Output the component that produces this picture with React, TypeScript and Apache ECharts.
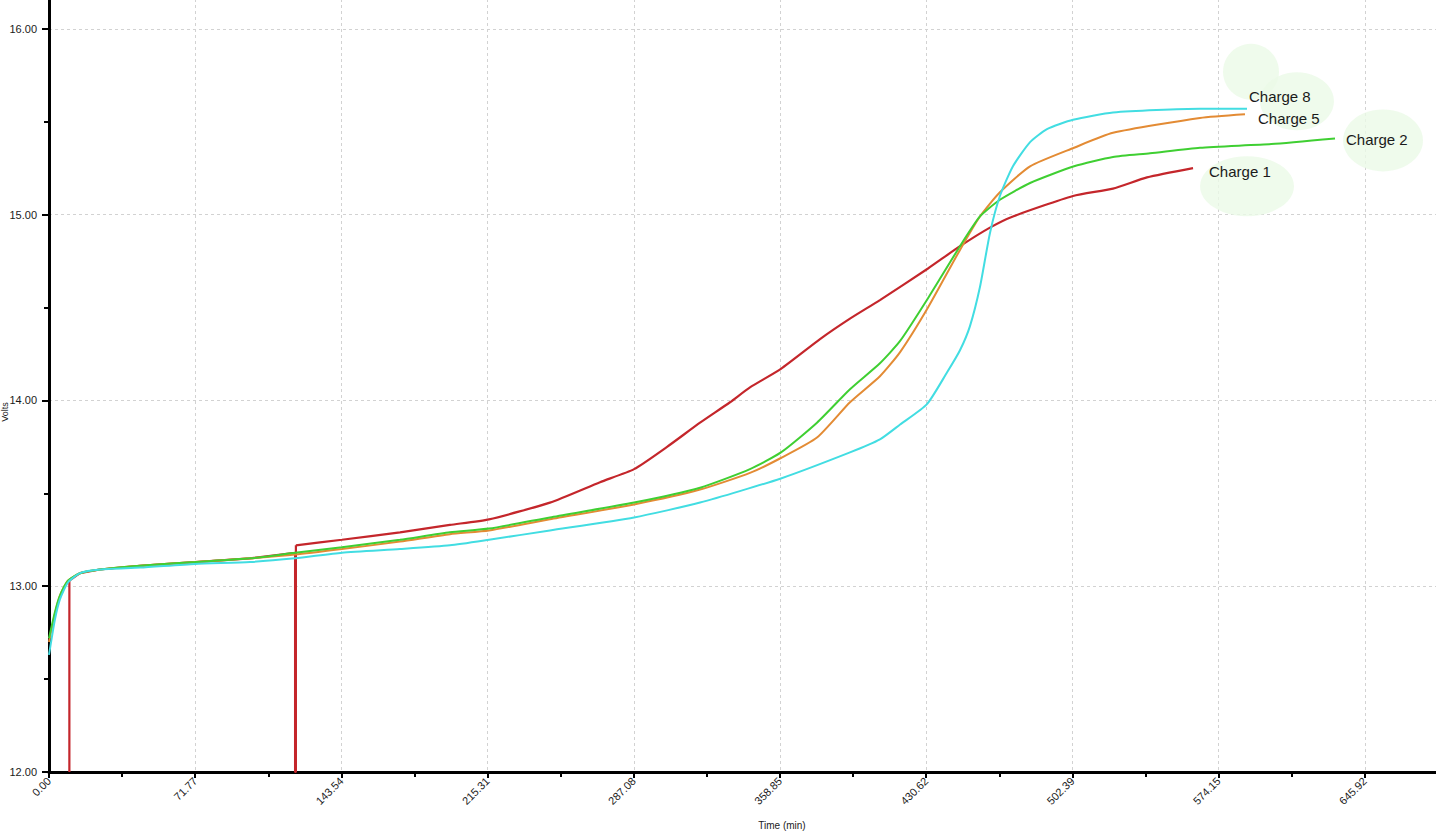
import { useEffect, useRef } from "react";
import * as echarts from "echarts";

// [time (min), volts]
const charge1: [number, number][] = [
  [10.0, 12.0], [10.0, 13.03], [15.2, 13.07], [25.0, 13.09], [44.7, 13.11],
  [71.7, 13.13], [98.7, 13.15], [120.8, 13.18], [120.8, 12.0], [121.2, 12.0],
  [121.2, 13.22], [143.8, 13.25], [172.3, 13.29], [196.8, 13.33], [216.0, 13.36],
  [245.9, 13.45], [270.5, 13.56], [287.2, 13.63], [303.4, 13.75], [319.6, 13.88],
  [334.3, 13.99], [344.1, 14.07], [359.3, 14.17], [378.5, 14.33], [393.2, 14.44],
  [407.9, 14.54], [431.5, 14.71], [447.2, 14.83], [461.9, 14.93], [473.2, 14.99],
  [502.7, 15.1], [522.3, 15.14], [539.0, 15.2], [561.6, 15.25],
];
// index of the point where Charge 1 restarts after its second drop
const charge1Restart = 10;

const charge2: [number, number][] = [
  [0, 12.72], [2.9, 12.86], [5.4, 12.95], [9.3, 13.03], [15.2, 13.07], [25.0, 13.09],
  [44.7, 13.11], [71.7, 13.13], [98.7, 13.15], [120.8, 13.18], [143.8, 13.21],
  [172.3, 13.25], [196.8, 13.29], [216.0, 13.31], [245.9, 13.37], [287.2, 13.45],
  [319.6, 13.53], [344.1, 13.63], [359.3, 13.72], [377.0, 13.88], [393.2, 14.06],
  [407.9, 14.2], [417.8, 14.32], [431.5, 14.55], [447.2, 14.83], [457.0, 14.99],
  [466.8, 15.08], [481.6, 15.17], [503.2, 15.26], [522.3, 15.31], [540.5, 15.33],
  [565.0, 15.36], [600.0, 15.38], [631.3, 15.41],
];

const charge5: [number, number][] = [
  [0, 12.7], [2.9, 12.85], [5.4, 12.95], [9.3, 13.03], [15.2, 13.07], [25.0, 13.09],
  [44.7, 13.11], [71.7, 13.13], [98.7, 13.15], [120.8, 13.17], [143.8, 13.2],
  [172.3, 13.24], [196.8, 13.28], [216.0, 13.3], [245.9, 13.36], [287.2, 13.44],
  [319.6, 13.52], [344.1, 13.61], [359.3, 13.69], [377.0, 13.8], [393.2, 13.99],
  [407.9, 14.13], [417.8, 14.26], [431.5, 14.5], [447.2, 14.81], [457.0, 14.99],
  [466.8, 15.12], [481.6, 15.26], [503.2, 15.36], [522.3, 15.44], [565.0, 15.52],
  [587.1, 15.54],
];

const charge8: [number, number][] = [
  [0, 12.63], [2.9, 12.82], [5.4, 12.93], [9.3, 13.02], [15.2, 13.07], [25.0, 13.09],
  [44.7, 13.1], [71.7, 13.12], [98.7, 13.13], [120.8, 13.15], [143.8, 13.18],
  [172.3, 13.2], [196.8, 13.22], [216.0, 13.25], [245.9, 13.3], [287.2, 13.37],
  [319.6, 13.45], [359.3, 13.58], [393.2, 13.72], [407.9, 13.79], [417.8, 13.87],
  [431.0, 13.98], [440.8, 14.15], [447.2, 14.27], [452.1, 14.4], [457.0, 14.61],
  [461.9, 14.9], [466.8, 15.1], [473.2, 15.26], [481.6, 15.39], [489.9, 15.46],
  [502.7, 15.51], [522.3, 15.55], [565.0, 15.57], [588.1, 15.57],
];

const xTickLabels = [
  "0.00", "71.77", "143.54", "215.31", "287.08", "358.85",
  "430.62", "502.39", "574.15", "645.92", "717.69",
];

const xInterval = 71.7693;
const font = "Arial, 'Liberation Sans', sans-serif";

const last = (d: [number, number][]) => d[d.length - 1];

export default function App() {
  const chartRef = useRef<HTMLDivElement>(null);

  useEffect(() => {
    if (!chartRef.current) return;
    const chart = echarts.init(chartRef.current, undefined, { renderer: "svg" });

    const lineSeries = (
      name: string,
      data: [number, number][],
      color: string,
      offset: [number, number],
      width = 2
    ) => ({
      name,
      type: "line",
      data,
      showSymbol: false,
      symbol: "none",
      smooth: 0.2,
      z: 3,
      lineStyle: { color, width },
      endLabel: {
        show: true,
        formatter: name,
        offset,
        color: "#1a1a1a",
        fontSize: 15,
        fontFamily: font,
      },
    });

    const gridLine = { show: true, lineStyle: { color: "#d2d2d2", type: [3, 3], width: 1 } };
    const minor = { show: true, splitNumber: 2, length: 5, lineStyle: { color: "#000", width: 2 } };

    const option: echarts.EChartsOption = {
      animation: false,
      backgroundColor: "#ffffff",
      // axes run on past the picture's top and right edges, as in the original screenshot
      grid: {
        left: 49,
        right: -75,
        top: -157,
        bottom: 62,
        containLabel: false,
        outerBoundsMode: "none",
      } as echarts.GridComponentOption,
      xAxis: {
        type: "value",
        min: 0,
        max: xInterval * 10,
        interval: xInterval,
        axisLine: { lineStyle: { color: "#000", width: 3 } },
        axisTick: { length: 6, lineStyle: { color: "#000", width: 2 } },
        minorTick: minor,
        splitLine: gridLine,
        axisLabel: {
          rotate: 45,
          margin: 7,
          fontSize: 11,
          color: "#1a1a1a",
          fontFamily: font,
          showMaxLabel: false,
          formatter: (v: number) => xTickLabels[Math.round(v / xInterval)] ?? "",
        },
      },
      yAxis: {
        type: "value",
        min: 12,
        max: 17,
        interval: 1,
        axisLine: { show: true, lineStyle: { color: "#000", width: 3 } },
        axisTick: { show: true, length: 7, lineStyle: { color: "#000", width: 2 } },
        minorTick: minor,
        splitLine: gridLine,
        axisLabel: {
          margin: 12,
          fontSize: 11,
          color: "#1a1a1a",
          fontFamily: font,
          showMaxLabel: false,
          formatter: (v: number) => v.toFixed(2),
        },
      },
      graphic: [
        {
          type: "text",
          x: 5,
          y: 412,
          rotation: Math.PI / 2,
          style: {
            text: "Volts",
            fontSize: 9,
            fontFamily: font,
            fill: "#1a1a1a",
            align: "center",
            verticalAlign: "middle",
          },
        },
        {
          type: "text",
          x: 782,
          y: 825,
          style: {
            text: "Time (min)",
            fontSize: 10,
            fontFamily: font,
            fill: "#1a1a1a",
            align: "center",
            verticalAlign: "middle",
          },
        },
      ],
      series: [
        {
          type: "scatter",
          silent: true,
          z: 1,
          itemStyle: { color: "#ebfae7" },
          data: [
            { value: last(charge8), symbolSize: [56, 56], symbolOffset: [4, -37] },
            { value: last(charge5), symbolSize: [74, 58], symbolOffset: [52, -13] },
            { value: last(charge2), symbolSize: [80, 62], symbolOffset: [48, 2] },
            { value: last(charge1), symbolSize: [94, 60], symbolOffset: [54, 18] },
          ],
        },
        // Charge 1 start with its two drops to the floor (straight segments)
        {
          type: "line",
          data: charge1.slice(0, charge1Restart + 1),
          showSymbol: false,
          symbol: "none",
          z: 3,
          lineStyle: { color: "#c4262b", width: 2.2 },
        },
        lineSeries("Charge 1", charge1.slice(charge1Restart), "#c4262b", [8, 3], 2.2),
        lineSeries("Charge 5", charge5, "#e38b34", [5, 4]),
        lineSeries("Charge 2", charge2, "#3fcf32", [3, 1]),
        lineSeries("Charge 8", charge8, "#42dde2", [-6, -12]),
      ] as echarts.SeriesOption[],
    };

    chart.setOption(option);

    return () => {
      chart.dispose();
    };
  }, []);

  return (
    <div
      ref={chartRef}
      style={{ position: "absolute", left: 0, top: 0, width: 1436, height: 834 }}
    />
  );
}
